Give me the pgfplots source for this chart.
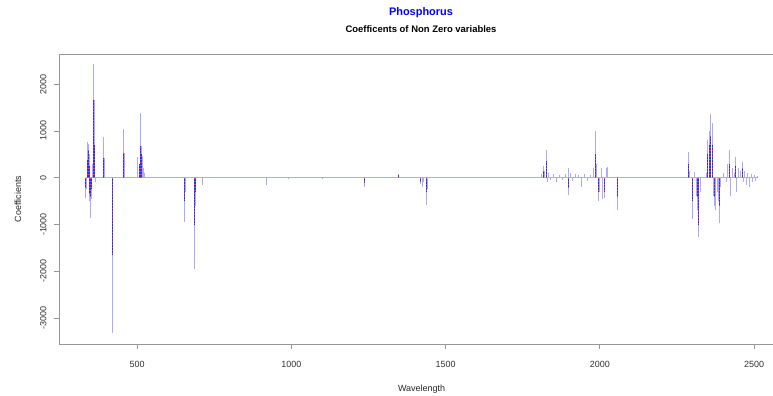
\documentclass[border=0pt]{standalone}
\usepackage{fontspec}
\setmainfont{Liberation Sans}
\usepackage{pgfplots}
\pgfplotsset{compat=1.18}

\definecolor{combLight}{RGB}{170,170,255}
\definecolor{combDark}{RGB}{45,45,225}
\definecolor{combRed}{RGB}{200,70,170}
\definecolor{frameGray}{RGB}{150,150,150}

\pgfplotstableread{
x y
334 -200
340 380
343 600
345 -350
347 250
349 -400
351 -250
353 -250
358 1650
361 700
390 420
419 -1650
456 520
507 300
511 680
514 500
655 -500
686 -1000
689 -300
1238 -120
1347 60
1420 -100
1437 -300
1817 150
1826 350
1897 -200
1987 500
1995 -300
2015 -300
2056 -400
2288 300
2301 -500
2316 -400
2321 -1000
2350 500
2354 700
2359 900
2364 700
2372 -400
2388 -600
2419 300
2440 250
2462 200
}\coreTable

\begin{document}
\begin{tikzpicture}[x=1bp,y=1bp]
\useasboundingbox (0,0) rectangle (773,395);
\clip (0,0) rectangle (773,395);
\begin{axis}[
  at={(59bp,51bp)}, anchor=south west,
  scale only axis, width=725bp, height=290bp,
  xmin=247, xmax=2597, ymin=-3553, ymax=2643,
  xtick={500,1000,1500,2000,2500},
  ytick={-3000,-2000,-1000,0,1000,2000},
  axis line style={frameGray, line width=0.9bp},
  tick style={frameGray, line width=0.7bp},
  tick align=outside, major tick length=5bp,
  xtick pos=bottom, ytick pos=left,
  /pgf/number format/assume math mode=true,
  /pgf/number format/set thousands separator={},
  ticklabel style={font=\fontsize{9}{10}\selectfont, text=black!80},
  yticklabel style={rotate=90, anchor=south, yshift=4bp},
  xticklabel style={yshift=-9bp},
  xlabel={Wavelength}, ylabel={Coefficients},
  label style={font=\fontsize{9}{10}\selectfont, text=black!85},
  xlabel style={yshift=-10bp},
  ylabel style={yshift=12bp},
  clip=true,
]
% baseline at zero
\addplot[combLight, line width=0.9bp] coordinates {(334,0) (2510,0)};

% full extent of every coefficient
\addplot[ycomb, combLight, line width=1bp] coordinates {
(334,-430) (337,-250) (340,760) (343,720) (345,-500) (347,500) (349,-870)
(351,-300) (353,-450) (355,300) (358,2430) (361,1650) (364,-100)
(390,860) (393,420) (419,-3320) (456,1040) (459,520)
(503,450) (507,300) (511,1380) (514,680) (517,470) (520,200) (523,100)
(655,-940) (658,-300) (686,-1950) (689,-600) (711,-150) (760,10) (866,25)
(921,-150) (990,-20) (1030,10) (1093,25) (1100,-30) (1140,10) (1238,-190)
(1347,80) (1420,-130) (1425,-200) (1430,-100) (1437,-580) (1441,-250)
(1812,80) (1817,250) (1820,150) (1826,600) (1830,-100) (1835,100) (1840,-50)
(1850,80) (1860,-100) (1870,60) (1880,-50) (1890,80) (1897,-370) (1900,200)
(1905,100) (1910,-60) (1920,80) (1930,60) (1941,-200) (1950,70) (1960,-80)
(1970,60) (1980,200) (1987,1000) (1990,300) (1995,-500) (2000,-300)
(2005,200) (2010,-450) (2015,-430) (2020,200) (2026,235) (2056,-690) (2084,10)
(2274,20) (2288,540) (2292,150) (2301,-890) (2308,130) (2312,-400) (2316,-700)
(2321,-1275) (2325,-300) (2345,100) (2350,800) (2354,1000) (2359,1360)
(2364,1160) (2368,-400) (2372,-600) (2375,-700) (2380,-300) (2385,-500)
(2388,-975) (2392,-200) (2400,100) (2410,-100) (2415,300) (2419,590)
(2424,-400) (2430,200) (2436,100) (2440,450) (2443,-300) (2450,200)
(2456,150) (2462,340) (2466,-100) (2470,150) (2475,-150) (2480,100)
(2486,-200) (2490,80) (2495,-100) (2500,50) (2505,-60) (2510,40)
};

% dense core of the coefficients, speckled
\addplot[ycomb, combDark, line width=0.9bp] table {\coreTable};
\addplot[ycomb, combRed, line width=0.9bp, dash pattern=on 0.7bp off 2.3bp] table {\coreTable};
\end{axis}

\node[font=\bfseries\fontsize{11}{13}\selectfont, text=blue] at (421,382) {Phosphorus};
\node[font=\bfseries\fontsize{9.5}{11}\selectfont] at (421,366) {Coefficents of Non Zero variables};
\end{tikzpicture}
\end{document}
